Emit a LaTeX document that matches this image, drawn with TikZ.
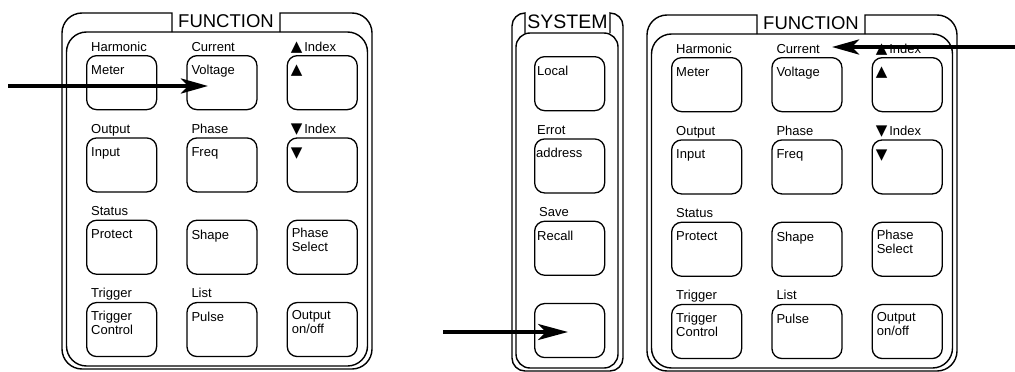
\documentclass[tikz,border=0pt]{standalone}
\usepackage{fontspec}
\setmainfont{Liberation Sans}
\newfontfamily\symfont{DejaVu Sans}
\usetikzlibrary{arrows.meta, positioning}

\newcommand{\uptri}{{\symfont\fontsize{15}{15}\selectfont ▲}}
\newcommand{\dntri}{{\symfont\fontsize{15}{15}\selectfont ▼}}

\begin{document}
\begin{tikzpicture}[
    x=1pt, y=-1pt,
    node distance=27pt and 29pt,
    >={Stealth[length=27pt, width=15pt, inset=7pt]},
    frame/.style={draw, line width=1.4pt},
    key/.style={draw, rounded corners=10pt, minimum width=70pt, minimum height=54pt, line width=1.3pt, inner sep=0pt},
    keytext/.style={anchor=north west, inner sep=0pt, xshift=5pt, yshift=-10pt, align=left, font=\fontsize{13}{14}\selectfont},
    keycap/.style={anchor=base west, inner sep=0pt, xshift=5pt, yshift=4pt, font=\fontsize{13}{14}\selectfont},
    title/.style={inner sep=0pt, font=\fontsize{18.5}{18.5}\selectfont},
    pointer/.style={->, line width=4pt}
]
\useasboundingbox[fill=white] (0,0) rectangle (1015,372);

% ========== FUNCTION PANELS ==========
\foreach \p/\ox/\oy in {L/62/13, R/647/15} {
\begin{scope}[shift={(\ox,\oy)}]
    % frame with notch for the title
    \draw[frame] (110,19) -- (110,0) -- (20,0) arc[start angle=90, end angle=180, radius=20pt]
        -- (0,336) arc[start angle=180, end angle=270, radius=20pt]
        -- (290,356) arc[start angle=270, end angle=360, radius=20pt]
        -- (310,20) arc[start angle=0, end angle=90, radius=20pt]
        -- (218,0) -- (218,19);
    \draw[frame, rounded corners=20pt] (4.5,19) rectangle (305.5,353);
    \node[title] (\p-title) at (164,8.5) {FUNCTION};

    % row 1
    \node[key, anchor=north west, label={[keycap]north west:Harmonic}, label={[keytext]north west:Meter}] (\p-meter) at (24,42) {};
    \node[key, right=of \p-meter, label={[keycap]north west:Current}, label={[keytext]north west:Voltage}] (\p-volt) {};
    \node[key, right=of \p-volt, label={[keycap, xshift=-1pt]north west:\uptri\kern2pt Index}, label={[keytext, xshift=-1pt]north west:\uptri}] (\p-idxup) {};
    % row 2
    \node[key, below=of \p-meter, label={[keycap]north west:Output}, label={[keytext]north west:Input}] (\p-input) {};
    \node[key, right=of \p-input, label={[keycap]north west:Phase}, label={[keytext]north west:Freq}] (\p-freq) {};
    \node[key, right=of \p-freq, label={[keycap, xshift=-1pt]north west:\dntri\kern2pt Index}, label={[keytext, xshift=-1pt]north west:\dntri}] (\p-idxdn) {};
    % row 3
    \node[key, below=of \p-input, label={[keycap]north west:Status}, label={[keytext]north west:Protect}] (\p-protect) {};
    \node[key, right=of \p-protect, label={[keytext]north west:Shape}] (\p-shape) {};
    \node[key, right=of \p-shape, label={[keytext, yshift=2pt]north west:Phase\\Select}] (\p-phsel) {};
    % row 4
    \node[key, below=of \p-protect, label={[keycap]north west:Trigger}, label={[keytext, yshift=1pt]north west:Trigger\\Control}] (\p-trig) {};
    \node[key, right=of \p-trig, label={[keycap]north west:List}, label={[keytext]north west:Pulse}] (\p-pulse) {};
    \node[key, right=of \p-pulse, label={[keytext, yshift=2pt]north west:Output\\on/off}] (\p-onoff) {};
\end{scope}
}

% ========== SYSTEM PANEL ==========
\draw[frame] (525,33) -- (525,13) arc[start angle=90, end angle=180, radius=13pt]
    -- (512,358) arc[start angle=180, end angle=270, radius=13pt]
    -- (610,371) arc[start angle=270, end angle=360, radius=13pt]
    -- (623,26) arc[start angle=0, end angle=90, radius=13pt]
    -- (610,33);
\draw[frame, rounded corners=14pt] (516,33) rectangle (618,368);
\node[title, font=\fontsize{19.5}{19.5}\selectfont] (sys-title) at (567.5,21.5) {SYSTEM};

\node[key, anchor=north west, label={[keytext, xshift=-2pt]north west:Local}] (sys-local) at (534,56) {};
\node[key, below=of sys-local, label={[keycap, xshift=-2pt]north west:Errot}, label={[keytext, xshift=-3pt]north west:address}] (sys-addr) {};
\node[key, below=of sys-addr, label={[keycap]north west:Save}, label={[keytext, xshift=-2pt]north west:Recall}] (sys-recall) {};
\node[key, below=of sys-recall] (sys-blank) {};

% ========== POINTERS ==========
\coordinate (inL) at (8,86);
\coordinate (atL) at (208,86);
\coordinate (inR) at (1016,47);
\coordinate (atR) at (832,47);
\coordinate (inS) at (443,332);
\coordinate (atS) at (568,332);

\draw[pointer] (inL) -- (atL);
\draw[pointer] (inR) -- (atR);
\draw[pointer, -{Stealth[length=30pt, width=16pt, inset=8pt]}] (inS) -- (atS);

\end{tikzpicture}
\end{document}
